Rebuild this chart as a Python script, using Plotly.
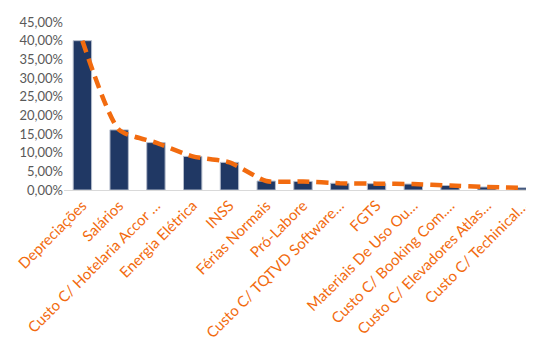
import plotly.graph_objects as go

categorias = ['Depreciações', 'Salários', 'Custo C/ Hotelaria Accor …', 'Energia Elétrica', 'INSS',
              'Férias Normais', 'Pró-Labore', 'Custo C/ TQTVD Software…', 'FGTS',
              'Materiais De Uso Ou…', 'Custo C/ Booking Com.…', 'Custo C/ Elevadores Atlas…',
              'Custo C/ Techinical…']
percentual = [0.400, 0.161, 0.127, 0.090, 0.074, 0.024, 0.023, 0.018, 0.017, 0.016, 0.012, 0.008, 0.006]

bars = go.Bar(x=categorias, y=percentual,
              marker=dict(color='#203864', line=dict(color='#b4bccb', width=1)),
              showlegend=False)
line = go.Scatter(x=categorias, y=percentual, mode='lines',
                  line=dict(color='#f26b0f', width=4.5, dash='12px,7px', shape='spline', smoothing=0.6),
                  showlegend=False)

fig = go.Figure(data=[bars, line])
fig.update_layout(
    width=534, height=340,
    margin=dict(l=56, r=0, t=14, b=158),
    plot_bgcolor='white', paper_bgcolor='white',
    separators=',.',
    bargap=0.5,
    font=dict(family='Lato', color='#595959'),
)
fig.update_xaxes(tickangle=-45, tickfont=dict(size=15, color='#f26b0f'), automargin=False,
                 showline=True, linecolor='#d9d9d9', linewidth=1, ticks='', showgrid=False)
fig.update_yaxes(range=[0, 0.45], dtick=0.05, tickformat='.2%', showgrid=False, zeroline=False,
                 tickfont=dict(size=13, color='#595959'))

fig.write_html('out.html')
